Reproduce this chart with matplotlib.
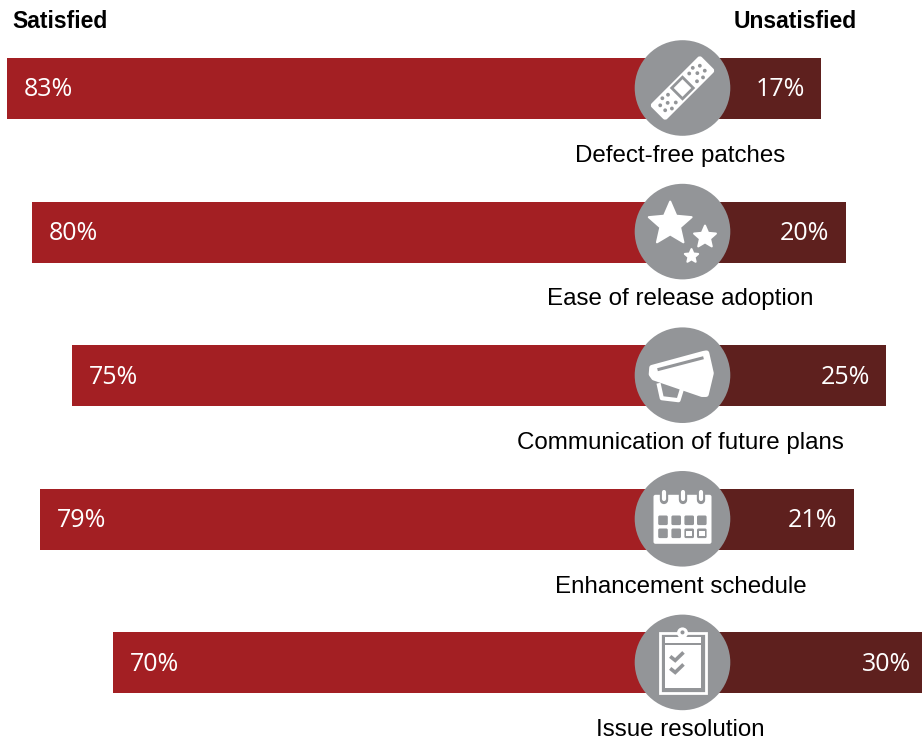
import numpy as np
import matplotlib
matplotlib.use("Agg")
import matplotlib.pyplot as plt
from matplotlib.patches import Circle, Polygon, Rectangle, FancyBboxPatch
from matplotlib.transforms import Affine2D

# 数据
labels = ["Defect-free patches", "Ease of release adoption", "Communication of future plans",
          "Enhancement schedule", "Issue resolution"]
satisfied = [83, 80, 75, 79, 70]
unsatisfied = [17, 20, 25, 21, 30]

RED = "#A31F23"
DARK = "#5E201E"
GREY = "#939598"
WHITE = "white"
LABEL_FONT = "Liberation Sans"
PCT_FONT = "Open Sans"

W, H = 922, 740
X0 = 682.7       # 0% 所在的像素位置
CIRCLE_X = 682.5
PX_PER_PCT = 8.14
Y0 = 88.5        # 第一行中心
ROW = 143.6      # 行距
BAR_H = 61 / ROW

fig = plt.figure(figsize=(W / 100, H / 100), dpi=100)
ax = fig.add_axes([0, 0, 1, 1])
ax.set_xlim(-X0 / PX_PER_PCT, (W - X0) / PX_PER_PCT)
ax.set_ylim((H - Y0) / ROW, -Y0 / ROW)
ax.axis("off")

rows = np.arange(len(labels))
ax.barh(rows, [-v for v in satisfied], height=BAR_H, color=RED, linewidth=0)
ax.barh(rows, unsatisfied, height=BAR_H, color=DARK, linewidth=0)

for i in rows:
    ax.annotate(f"{satisfied[i]}%", (-satisfied[i], i), xytext=(12.2, -1), textcoords="offset points",
                ha="left", va="center", color=WHITE, fontsize=18, family=PCT_FONT, annotation_clip=False)
    ax.annotate(f"{unsatisfied[i]}%", (unsatisfied[i], i), xytext=(-11.5, -1), textcoords="offset points",
                ha="right", va="center", color=WHITE, fontsize=18, family=PCT_FONT, annotation_clip=False)
    ax.annotate(labels[i], (0, i), xytext=(-1.5, -48.5), textcoords="offset points",
                ha="center", va="center", color="black", fontsize=17.4, family=LABEL_FONT, annotation_clip=False)

fig.text(12.5 / W, 1 - 21 / H, "Satisfied", ha="left", va="center", fontsize=16.5, fontweight="bold", family=LABEL_FONT)
fig.text(857 / W, 1 - 21 / H, "Unsatisfied", ha="right", va="center", fontsize=16.5, fontweight="bold", family=LABEL_FONT)

# 图标层，坐标为像素
ic = fig.add_axes([0, 0, 1, 1])
ic.set_xlim(0, W)
ic.set_ylim(H, 0)
ic.axis("off")
ic.patch.set_alpha(0)


def rbox(x0, y0, x1, y1, r, **kw):
    kw.setdefault("linewidth", 0)
    p = FancyBboxPatch((x0 + r, y0 + r), x1 - x0 - 2 * r, y1 - y0 - 2 * r,
                       boxstyle=f"round,pad={r}", **kw)
    ic.add_patch(p)
    return p


def star(cx, cy, R):
    ang = np.deg2rad(np.arange(10) * 36 - 90)
    rad = np.where(np.arange(10) % 2 == 0, R, R * 0.46)
    pts = np.c_[cx + rad * np.cos(ang), cy + rad * np.sin(ang)]
    ic.add_patch(Polygon(pts, closed=True, facecolor=WHITE, edgecolor=WHITE, linewidth=1.5, joinstyle="round"))


def icon_bandage(cx, cy):
    tr = Affine2D().rotate_deg(-45).translate(cx, cy) + ic.transData
    rbox(-35.5, -11, 35.5, 11, 3, facecolor=WHITE).set_transform(tr)
    ic.add_patch(Rectangle((-9, -9), 18, 18, facecolor=GREY, linewidth=0, transform=tr))
    ic.add_patch(Rectangle((-6.2, -6.2), 12.4, 12.4, facecolor=WHITE, linewidth=0, transform=tr))
    for sx in (-1, 1):
        for dx, dy in [(15, -5.5), (15, 5.5), (21, 0), (21.5, -7), (22, 7), (28, -3.5), (28, 3.5)]:
            ic.add_patch(Circle((sx * dx, dy), 1.9, facecolor=GREY, linewidth=0, transform=tr))


def icon_stars(cx, cy):
    star(cx - 12.3, cy - 7.5, 22.5)
    star(cx + 22.5, cy + 5.5, 11.5)
    star(cx + 9, cy + 24.5, 7)


def icon_megaphone(cx, cy):
    handle = [(-24, 8), (-20.7, 23), (-4, 25), (0, 12)]
    ic.add_patch(Polygon([(cx + x, cy + y) for x, y in handle], closed=False, fill=False,
                         edgecolor=WHITE, linewidth=3, joinstyle="round"))
    body = [(-30.5, -7.5), (21, -21.5), (24, -22), (28.5, -2), (23.5, 19), (19.5, 19), (-28.5, 2.5), (-31, -1)]
    ic.add_patch(Polygon([(cx + x, cy + y) for x, y in body], closed=True, facecolor=WHITE,
                         edgecolor=WHITE, linewidth=4, joinstyle="round"))
    ic.plot([cx - 25, cx + 21], [cy - 5.5, cy - 17.5], color=GREY, lw=2.2, solid_capstyle="butt")


def icon_calendar(cx, cy):
    rbox(cx - 29, cy - 24, cx + 29, cy + 25, 2, facecolor=WHITE)
    for dx in (-19, 0, 18.5):
        ic.plot([cx + dx, cx + dx], [cy - 25, cy - 19], color=GREY, lw=6, solid_capstyle="round")
        ic.plot([cx + dx, cx + dx], [cy - 27, cy - 20], color=WHITE, lw=3, solid_capstyle="round")
    for r, dy in enumerate((1.5, 14.5)):
        for c, dx in enumerate((-19.5, -6.3, 6.7, 19.3)):
            rbox(cx + dx - 4.8, cy + dy - 4.8, cx + dx + 4.8, cy + dy + 4.8, 1.5, facecolor=GREY)
            if r == 1 and c >= 2:
                ic.add_patch(Rectangle((cx + dx - 2.8, cy + dy - 2.8), 5.6, 5.6, facecolor=WHITE, linewidth=0))


def icon_clipboard(cx, cy):
    ic.add_patch(Rectangle((cx - 23, cy - 29), 46, 60, fill=False, edgecolor=WHITE, linewidth=2))
    ic.add_patch(Rectangle((cx - 17.5, cy - 17), 35.5, 42.5, facecolor=WHITE, linewidth=0))
    ic.add_patch(Rectangle((cx - 17.5, cy - 25.5), 35.5, 6, facecolor=WHITE, linewidth=0))
    ic.add_patch(Circle((cx, cy - 29.5), 5.5, facecolor=WHITE, linewidth=0))
    ic.add_patch(Circle((cx, cy - 30), 2, facecolor=GREY, linewidth=0))
    for dy in (-6, 6):
        ic.plot([cx - 12.3, cx - 7.3, cx + 1], [cy + dy, cy + dy + 4, cy + dy - 4], color=GREY, lw=2.6,
                solid_joinstyle="miter", solid_capstyle="butt")


icons = [icon_bandage, icon_stars, icon_megaphone, icon_calendar, icon_clipboard]
for i, draw in zip(rows, icons):
    cy = Y0 + ROW * i - 0.5
    ic.add_patch(Circle((CIRCLE_X, cy), 47.8, facecolor=GREY, linewidth=0))
    draw(CIRCLE_X, cy)

fig.savefig("out.png", dpi=100)
